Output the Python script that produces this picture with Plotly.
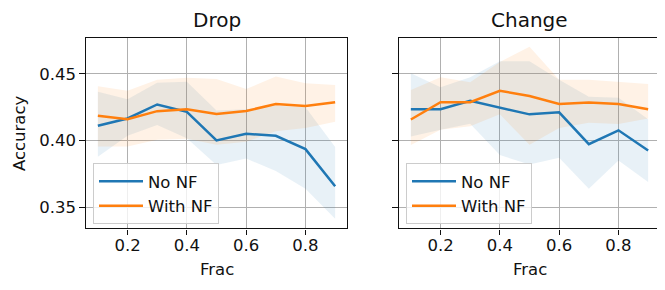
import plotly.graph_objects as go

frac = [0.1, 0.2, 0.3, 0.4, 0.5, 0.6, 0.7, 0.8, 0.9]

# Drop panel
drop_nonf_mean = [0.411, 0.4165, 0.427, 0.4215, 0.400, 0.405, 0.4035, 0.3935, 0.3657]
drop_nonf_upper = [0.4366, 0.4309, 0.4433, 0.4441, 0.4225, 0.4235, 0.426, 0.425, 0.395]
drop_nonf_lower = [0.3878, 0.4035, 0.4116, 0.4016, 0.3815, 0.3865, 0.377, 0.3637, 0.3413]

drop_nf_mean = [0.4185, 0.416, 0.422, 0.4235, 0.4198, 0.4221, 0.4274, 0.4259, 0.4287]
drop_nf_upper = [0.4406, 0.4373, 0.4455, 0.447, 0.4462, 0.4386, 0.448, 0.443, 0.4417]
drop_nf_lower = [0.3954, 0.3954, 0.4005, 0.4013, 0.3967, 0.399, 0.407, 0.4094, 0.414]

# Change panel
chg_nonf_mean = [0.4234, 0.4234, 0.4297, 0.4246, 0.4196, 0.4211, 0.3972, 0.4076, 0.3924]
chg_nonf_upper = [0.4504, 0.4399, 0.4475, 0.4594, 0.4594, 0.4455, 0.4328, 0.432, 0.416]
chg_nonf_lower = [0.403, 0.408, 0.4125, 0.389, 0.382, 0.387, 0.3637, 0.385, 0.3688]

chg_nf_mean = [0.4157, 0.4287, 0.4287, 0.4373, 0.4333, 0.4274, 0.4284, 0.4274, 0.4234]
chg_nf_upper = [0.4378, 0.4475, 0.4437, 0.4589, 0.4704, 0.4455, 0.4455, 0.4437, 0.4424]
chg_nf_lower = [0.3966, 0.4081, 0.4107, 0.4196, 0.3967, 0.4094, 0.4132, 0.4124, 0.4165]

titles = ["Drop", "Change"]
series_names = ["No NF", "With NF"]
x_label = "Frac"
y_label = "Accuracy"
x_ticks = [0.2, 0.4, 0.6, 0.8]
x_ticktext = ["0.2", "0.4", "0.6", "0.8"]
y_ticks = [0.35, 0.40, 0.45]
y_ticktext = ["0.35", "0.40", "0.45"]

BLUE = "#1f77b4"
ORANGE = "#ff7f0e"
BLUE_FILL = "rgba(31,119,180,0.1)"
ORANGE_FILL = "rgba(255,127,14,0.1)"
FONT = "DejaVu Sans"
FS = 16.5

W, H = 665, 290
OFF = 8  # page body margin offset
panels = [
    (drop_nonf_mean, drop_nonf_upper, drop_nonf_lower, drop_nf_mean, drop_nf_upper, drop_nf_lower),
    (chg_nonf_mean, chg_nonf_upper, chg_nonf_lower, chg_nf_mean, chg_nf_upper, chg_nf_lower),
]
x_px = [(86 - OFF, 347 - OFF), (399 - OFF, 660 - OFF)]
y_top, y_bot = 38.4 - OFF, 228.4 - OFF

fig = go.Figure()
for i, (bm, bu, bl, om, ou, ol) in enumerate(panels):
    xa = "x" if i == 0 else "x2"
    ya = "y" if i == 0 else "y2"
    lg = "legend" if i == 0 else "legend2"
    fig.add_trace(go.Scatter(x=frac + frac[::-1], y=bu + bl[::-1], fill="toself",
                             fillcolor=BLUE_FILL, line=dict(width=0), mode="lines",
                             hoverinfo="skip", showlegend=False, xaxis=xa, yaxis=ya))
    fig.add_trace(go.Scatter(x=frac + frac[::-1], y=ou + ol[::-1], fill="toself",
                             fillcolor=ORANGE_FILL, line=dict(width=0), mode="lines",
                             hoverinfo="skip", showlegend=False, xaxis=xa, yaxis=ya))
    fig.add_trace(go.Scatter(x=frac, y=bm, mode="lines", name=series_names[0],
                             line=dict(color=BLUE, width=2.5), xaxis=xa, yaxis=ya, legend=lg))
    fig.add_trace(go.Scatter(x=frac, y=om, mode="lines", name=series_names[1],
                             line=dict(color=ORANGE, width=2.5), xaxis=xa, yaxis=ya, legend=lg))

common_x = dict(range=[0.06, 0.94], tickvals=x_ticks, ticktext=x_ticktext,
                showgrid=True, gridcolor="#b0b0b0", gridwidth=1.3,
                showline=True, linecolor="#111", linewidth=1.3, mirror=True,
                ticks="outside", ticklen=5.5, tickwidth=1.3, tickcolor="#111",
                zeroline=False, automargin=False, ticklabelstandoff=-4,
                tickfont=dict(family=FONT, size=FS, color="#111"))
common_y = dict(range=[0.334, 0.4766], tickvals=y_ticks, ticktext=y_ticktext,
                showgrid=True, gridcolor="#b0b0b0", gridwidth=1.3,
                showline=True, linecolor="#111", linewidth=1.3, mirror=True,
                ticks="outside", ticklen=5.5, tickwidth=1.3, tickcolor="#111",
                zeroline=False, automargin=False,
                tickfont=dict(family=FONT, size=FS, color="#111"))

ydom = [(H - y_bot) / H, (H - y_top) / H]
legend_common = dict(xanchor="left", yanchor="top", y=(H - (163 - OFF)) / H,
                     bgcolor="rgba(255,255,255,0.8)", bordercolor="#cccccc", borderwidth=1,
                     font=dict(family=FONT, size=FS, color="#111"), tracegroupgap=0,
                     itemwidth=44)
fig.update_layout(
    width=W, height=H,
    margin=dict(l=0, r=0, t=0, b=0),
    paper_bgcolor="white", plot_bgcolor="white",
    font=dict(family=FONT, size=FS, color="#111"),
    xaxis=dict(domain=[x_px[0][0] / W, x_px[0][1] / W], anchor="y", **common_x),
    xaxis2=dict(domain=[x_px[1][0] / W, x_px[1][1] / W], anchor="y2", **common_x),
    yaxis=dict(domain=ydom, anchor="x",
               title=dict(text=y_label, font=dict(family=FONT, size=FS, color="#111"), standoff=9),
               **common_y),
    yaxis2=dict(domain=ydom, anchor="x2", showticklabels=False, **common_y),
    legend=dict(x=(93 - OFF) / W, **legend_common),
    legend2=dict(x=(406 - OFF) / W, **legend_common),
    showlegend=True,
)

for i, t in enumerate(titles):
    cx = (x_px[i][0] + x_px[i][1]) / 2 / W
    fig.add_annotation(text=t, x=cx, y=(H - (20 - OFF)) / H, xref="paper", yref="paper",
                       showarrow=False, xanchor="center", yanchor="middle",
                       font=dict(family=FONT, size=20, color="#111"))
    fig.add_annotation(text=x_label, x=cx, y=(H - (269 - OFF)) / H, xref="paper", yref="paper",
                       showarrow=False, xanchor="center", yanchor="middle",
                       font=dict(family=FONT, size=FS, color="#111"))

fig.write_html("out.html")
